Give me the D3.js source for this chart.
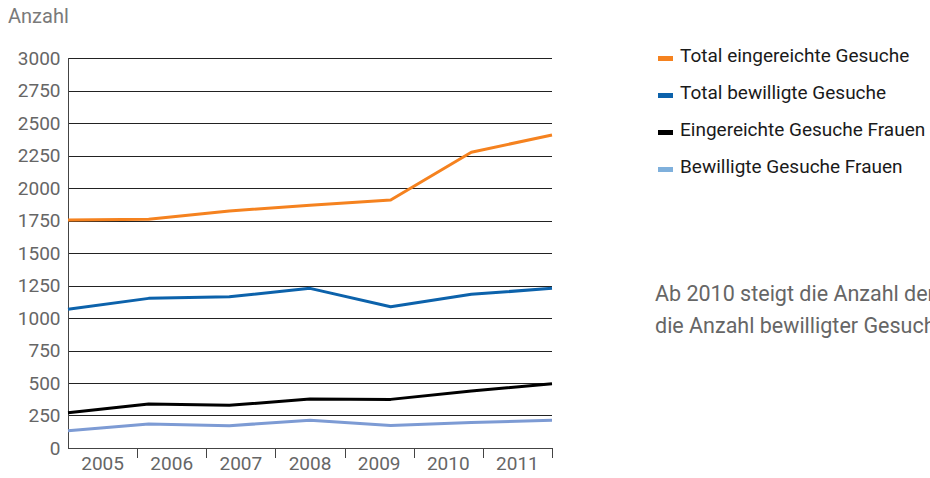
<!DOCTYPE html>
<html><head><meta charset="utf-8">
<script src="https://cdn.jsdelivr.net/npm/d3@7/dist/d3.min.js"></script>
<style>body{margin:0;background:#fff;}svg{display:block;font-family:Roboto,sans-serif;}</style>
</head><body><svg id="c" width="930" height="478"></svg>
<script>
const years = ["2005","2006","2007","2008","2009","2010","2011"];
const yTicks = [0,250,500,750,1000,1250,1500,1750,2000,2250,2500,2750,3000];
const seriesNames = ["Total eingereichte Gesuche","Total bewilligte Gesuche","Eingereichte Gesuche Frauen","Bewilligte Gesuche Frauen"];
const totalEingereicht = [1754,1760,1823,1868,1908,2275,2408];
const totalBewilligt = [1067,1151,1164,1228,1087,1182,1228];
const eingereichtFrauen = [272,338,328,377,374,438,495];
const bewilligtFrauen = [133,185,172,213,174,197,213];
const lineColors = ["#f5821f","#0c62ab","#000000","#7d9bd4"];
const legendColors = ["#f5821f","#0c62ab","#000000","#7fb0dc"];
const annotation = ["Ab 2010 steigt die Anzahl der Gesuche stärker als","die Anzahl bewilligter Gesuche."];

const series = [totalEingereicht,totalBewilligt,eingereichtFrauen,bewilligtFrauen];
const svg = d3.select("#c");
const L=68,R=552,T=58,B=448;
const y = d3.scaleLinear().domain([0,3000]).range([B,T]);
const xBand = d3.scaleBand().domain(years).range([L,R]);
const xPt = d3.scalePoint().domain(years).range([L,R]);

svg.append("text").attr("x",8).attr("y",23).attr("fill","#7a7a7a").attr("font-size",20).text("Anzahl");

// grid
svg.append("g").selectAll("line").data(yTicks.filter(d=>d>0)).join("line")
  .attr("x1",L).attr("x2",R).attr("y1",d=>Math.round(y(d))+0.5).attr("y2",d=>Math.round(y(d))+0.5)
  .attr("stroke","#222").attr("stroke-width",1);

// y axis
const ya = svg.append("g").attr("transform",`translate(${L+0.5},0)`)
  .call(d3.axisLeft(y).tickValues(yTicks).tickFormat(d3.format("d")).tickSize(0).tickPadding(8));
ya.select(".domain").attr("stroke","#444").attr("d",`M0,${T}V${B}`);
ya.selectAll("text").attr("font-size",19).attr("fill","#666").attr("font-family","Roboto, sans-serif");

// x axis
const xa = svg.append("g").attr("transform",`translate(0,${B+0.5})`)
  .call(d3.axisBottom(xBand).tickSize(0).tickPadding(8));
xa.select(".domain").attr("stroke","#444").attr("d",`M${L},0H${R}`);
xa.selectAll("text").attr("font-size",19).attr("fill","#666").attr("font-family","Roboto, sans-serif");
// category boundary ticks
svg.append("g").selectAll("line").data(years).join("line")
  .attr("x1",d=>Math.round(xBand(d)+xBand.bandwidth())+0.5)
  .attr("x2",d=>Math.round(xBand(d)+xBand.bandwidth())+0.5)
  .attr("y1",B).attr("y2",B+10).attr("stroke","#444");

// lines
const line = d3.line().x((d,i)=>xPt(years[i])).y(d=>y(d));
svg.append("g").selectAll("path").data(series).join("path")
  .attr("d",d=>line(d)).attr("fill","none")
  .attr("stroke",(d,i)=>lineColors[i]).attr("stroke-width",3).attr("stroke-linejoin","round");

// legend
const lg = svg.append("g").selectAll("g").data(seriesNames).join("g")
  .attr("transform",(d,i)=>`translate(658,${62+i*37})`);
lg.append("rect").attr("x",0).attr("y",-6).attr("width",15).attr("height",5).attr("fill",(d,i)=>legendColors[i]);
lg.append("text").attr("x",22).attr("y",0).attr("font-size",19).attr("fill","#1a1a1a").text(d=>d);

// annotation
svg.append("g").selectAll("text").data(annotation).join("text")
  .attr("x",655).attr("y",(d,i)=>301+i*31.5).attr("font-size",21.5).attr("fill","#666").text(d=>d);
</script></body></html>
